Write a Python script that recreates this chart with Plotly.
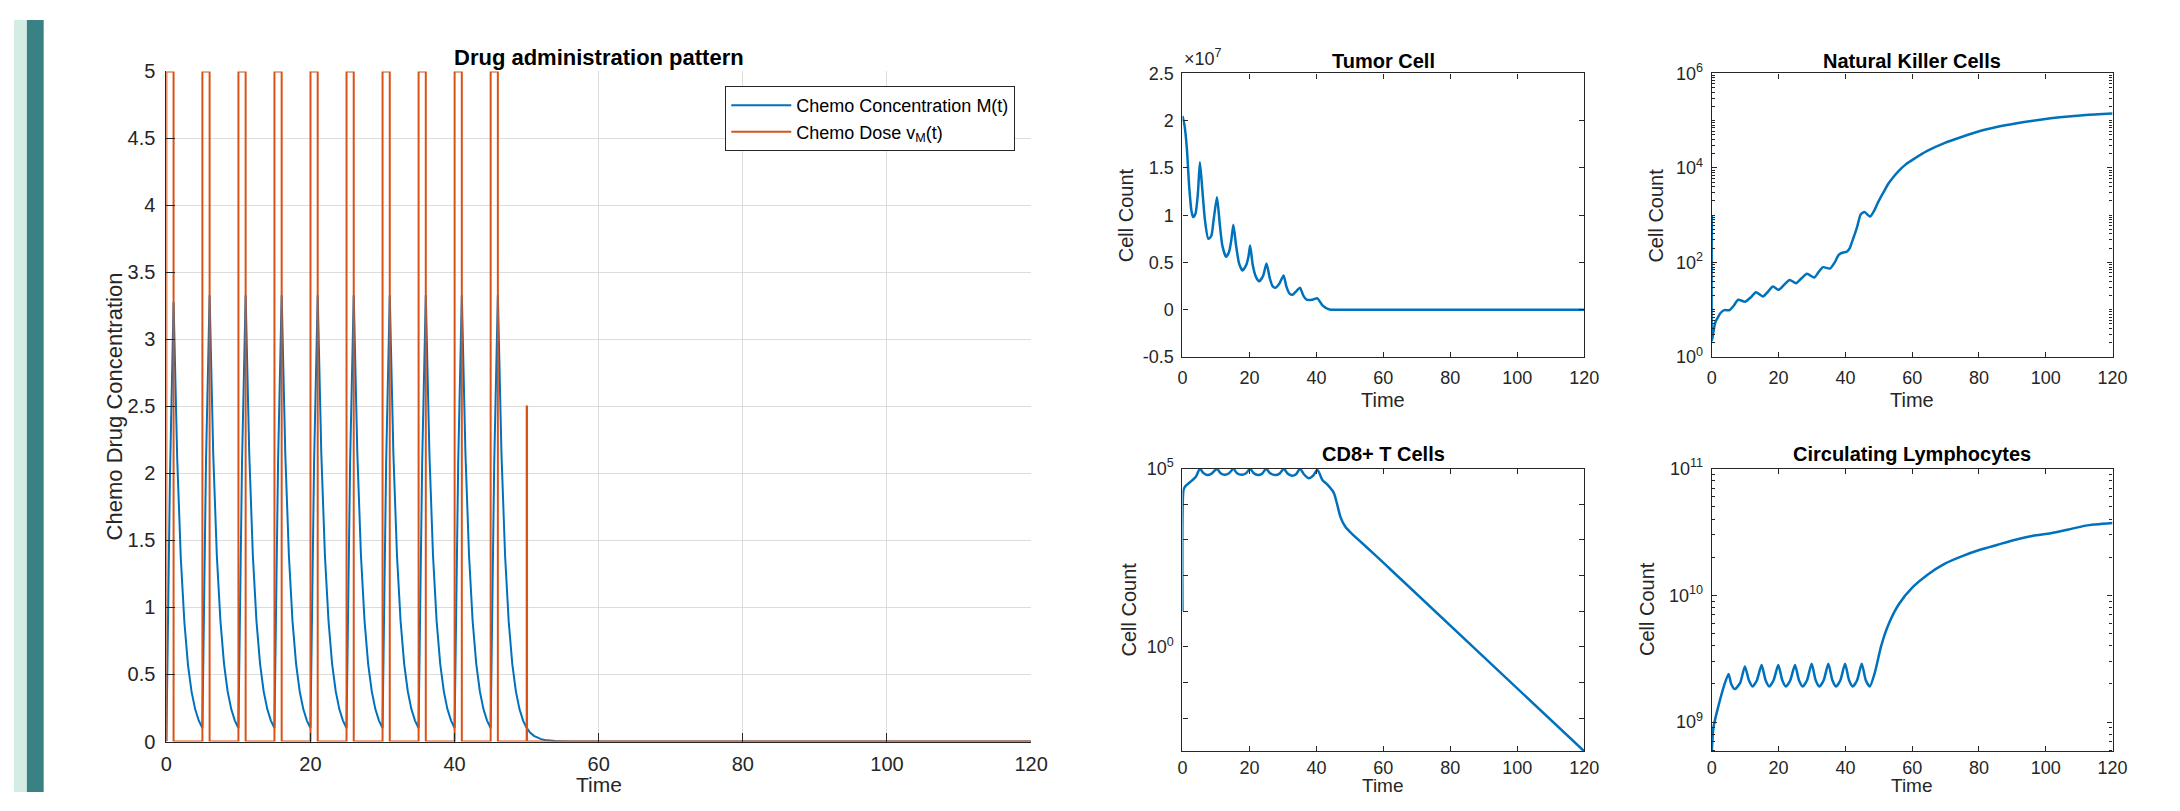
import plotly.graph_objects as go

# ---------------- data ----------------
time_ticks = [0, 20, 40, 60, 80, 100, 120]

# Chemo concentration M(t), sampled every 0.5 time units from 0 to 56, then 120
conc_time = [i * 0.5 for i in range(113)] + [120]
conc_values = [
    0.0, 1.98, 3.28, 2.12, 1.37, 0.89, 0.57, 0.37, 0.24, 0.155, 0.10,
    2.09, 3.33, 2.15, 1.39, 0.90, 0.58, 0.375, 0.242, 0.156, 0.101,
    2.09, 3.33, 2.15, 1.39, 0.90, 0.58, 0.375, 0.242, 0.156, 0.101,
    2.09, 3.33, 2.15, 1.39, 0.90, 0.58, 0.375, 0.242, 0.156, 0.101,
    2.09, 3.33, 2.15, 1.39, 0.90, 0.58, 0.375, 0.242, 0.156, 0.101,
    2.09, 3.33, 2.15, 1.39, 0.90, 0.58, 0.375, 0.242, 0.156, 0.101,
    2.09, 3.33, 2.15, 1.39, 0.90, 0.58, 0.375, 0.242, 0.156, 0.101,
    2.09, 3.33, 2.15, 1.39, 0.90, 0.58, 0.375, 0.242, 0.156, 0.101,
    2.09, 3.33, 2.15, 1.39, 0.90, 0.58, 0.375, 0.242, 0.156, 0.101,
    2.09, 3.33, 2.15, 1.39, 0.90, 0.58, 0.375, 0.242, 0.156, 0.101,
    0.065, 0.042, 0.027, 0.018, 0.011, 0.007, 0.005, 0.003, 0.002, 0.001, 0.001, 0.0,
    0.0,
]

# Chemo dose v_M(t) (step function)
dose_time = [0, 0, 1, 5, 6, 10, 11, 15, 16, 20, 21, 25, 26, 30, 31, 35, 36, 40, 41,
             45, 46, 50, 50.05, 120]
dose_values = [0, 5, 0, 5, 0, 5, 0, 5, 0, 5, 0, 5, 0, 5, 0, 5, 0, 5, 0,
               5, 0, 2.5, 0, 0]

# Tumor cells
tumor_time = [0, 0.6, 1.3, 2.0, 2.7, 3.2, 3.9, 4.6, 5.2, 5.9,
              6.7, 7.7, 8.6, 9.3, 10.3, 11.1, 11.9, 13.0, 13.9, 14.6,
              15.2, 16.0, 16.9, 17.9, 19.0, 19.7, 20.2, 21.0, 21.9, 22.9,
              24.1, 25.1, 26.1, 26.9, 27.8, 29.0, 30.2, 31.0, 32.0, 32.9,
              34.1, 35.1, 36.1, 37.1, 38.8, 40.3, 41.8, 42.8, 44.0, 44.7, 120]
tumor_values = [2.05e7, 1.95e7, 1.71e7, 1.30e7, 1.04e7, 0.98e7, 1.02e7, 1.23e7, 1.56e7, 1.28e7,
                0.95e7, 0.75e7, 0.78e7, 0.95e7, 1.19e7, 0.92e7, 0.68e7, 0.56e7, 0.61e7, 0.74e7,
                0.90e7, 0.68e7, 0.49e7, 0.415e7, 0.47e7, 0.56e7, 0.68e7, 0.47e7, 0.35e7, 0.30e7,
                0.36e7, 0.49e7, 0.33e7, 0.25e7, 0.233e7, 0.28e7, 0.363e7, 0.25e7, 0.17e7, 0.158e7,
                0.20e7, 0.233e7, 0.15e7, 0.106e7, 0.106e7, 0.12e7, 0.045e7, 0.02e7, 0.003e7, 0, 0]

# Natural killer cells
nk_time = [0, 0.05, 0.3, 1.0, 2.0, 2.6, 3.7, 5.3, 6.5, 7.9,
           10.0, 11.8, 13.2, 15.3, 16.8, 18.3, 20.0, 21.7, 23.3, 25.2,
           26.8, 28.5, 30.7, 32.0, 33.3, 35.4, 36.8, 38.0, 39.3, 40.5,
           41.3, 42.3, 43.5, 44.6, 45.7, 46.5, 47.4, 48.5, 49.7, 51.3,
           52.9, 54.5, 56.0, 58.0, 60.3, 64.5, 69.8, 75.0, 80.3, 85.6,
           90.9, 96.2, 101.5, 106.8, 112.0, 120]
nk_values = [1000, 2.24, 2.82, 5.25, 7.24, 8.51, 9.77, 9.77, 12.0, 16.2,
             14.8, 18.6, 23.4, 19.1, 24.0, 30.9, 26.3, 33.9, 42.7, 36.3,
             45.7, 57.5, 47.9, 63.1, 79.4, 74.1, 100, 145, 162, 170,
             200, 316, 562, 1047, 1175, 1047, 933, 1202, 1820, 2951,
             4677, 6607, 8710, 11750, 15140, 22910, 33880, 45710, 60260, 74130,
             87100, 100000, 112200, 123000, 131800, 141300]

# CD8+ T cells
cd8_time = [0, 0.3, 0.8, 2.5, 4.0, 5.2, 6.2, 7.4, 8.7, 10.3,
            11.3, 12.6, 13.9, 15.2, 16.2, 17.7, 19.0, 20.2, 21.2, 22.6,
            23.8, 25.0, 26.1, 27.7, 29.0, 30.3, 31.3, 32.7, 34.0, 35.1,
            36.2, 37.7, 39.0, 40.3, 41.8, 43.3, 45.2, 46.2, 47.2, 48.7,
            50.1, 52.6, 57.5, 62.4, 120]
cd8_values = [10, 2.51e4, 3.16e4, 4.37e4, 5.89e4, 1.0e5, 7.59e4, 6.61e4, 7.24e4, 1.0e5,
              7.59e4, 6.76e4, 7.41e4, 1.0e5, 7.59e4, 6.76e4, 7.41e4, 1.0e5, 7.59e4, 6.61e4,
              7.24e4, 1.0e5, 7.59e4, 6.61e4, 7.24e4, 1.0e5, 7.41e4, 6.31e4, 7.08e4, 1.0e5,
              7.08e4, 5.37e4, 6.31e4, 9.33e4, 4.79e4, 3.55e4, 2.09e4, 1.0e4, 4.37e3, 2.29e3,
              1.66e3, 1.0e3, 380, 141, 1.17e-3]

# Circulating lymphocytes
circ_time = [0, 0.5, 2.1, 3.7, 5.0, 5.8, 6.9, 8.5, 9.9, 11.1,
             12.2, 13.5, 14.9, 16.1, 17.2, 18.5, 19.9, 21.1, 22.2, 23.5,
             24.9, 26.1, 27.2, 28.5, 29.9, 31.1, 32.2, 33.5, 34.9, 36.1,
             37.2, 38.5, 39.9, 41.1, 42.2, 43.5, 44.9, 46.1, 47.3, 48.8,
             50.7, 52.9, 56.0, 60.3, 64.5, 69.8, 75.0, 80.3, 85.6, 90.9,
             96.2, 101.5, 106.8, 112.0, 120]
circ_values = [5.89e8, 9.12e8, 1.38e9, 1.95e9, 2.40e9, 2.00e9, 1.82e9, 2.04e9, 2.75e9, 2.14e9,
               1.91e9, 2.14e9, 2.82e9, 2.14e9, 1.91e9, 2.14e9, 2.82e9, 2.14e9, 1.91e9, 2.14e9,
               2.82e9, 2.14e9, 1.91e9, 2.14e9, 2.88e9, 2.14e9, 1.91e9, 2.14e9, 2.88e9, 2.14e9,
               1.91e9, 2.14e9, 2.88e9, 2.14e9, 1.91e9, 2.14e9, 2.88e9, 2.14e9, 1.91e9, 2.45e9,
               3.98e9, 5.89e9, 8.51e9, 1.17e10, 1.45e10, 1.78e10, 2.04e10, 2.29e10, 2.51e10, 2.75e10,
               2.95e10, 3.09e10, 3.31e10, 3.55e10, 3.72e10]

tumor_ticks = [-0.5e7, 0, 0.5e7, 1.0e7, 1.5e7, 2.0e7, 2.5e7]
tumor_ticktext = ["-0.5", "0", "0.5", "1", "1.5", "2", "2.5"]
nk_ticks = [1, 1e2, 1e4, 1e6]
nk_ticktext = ["10<sup>0</sup>", "10<sup>2</sup>", "10<sup>4</sup>", "10<sup>6</sup>"]
cd8_ticks = [1e-2, 1e-1, 1, 1e1, 1e2, 1e3, 1e4, 1e5]
cd8_ticktext = ["", "", "10<sup>0</sup>", "", "", "", "", "10<sup>5</sup>"]
circ_ticks = [1e9, 1e10, 1e11]
circ_ticktext = ["10<sup>9</sup>", "10<sup>10</sup>", "10<sup>11</sup>"]

# ---------------- styling ----------------
# The page body keeps its default 8 px margin, so the figure is sized to fit the
# 2180x811 window exactly; positions below are given in window pixels.
OFF = 8
W, H = 2180 - OFF, 811 - 2 * OFF
FONT = "Liberation Sans, Arial, Helvetica, sans-serif"
BLUE = "#0072BD"
ORANGE = "#D95319"
AX = "#262626"


def px(x):
    return (x - OFF) / W


def py(y):
    return 1 - (y - OFF) / H


def dx(a, b):
    return [px(a), px(b)]


def dy(top, bottom):
    return [py(bottom), py(top)]


def minor_log(lo, hi):
    vals = []
    for e in range(lo, hi):
        for m in range(2, 10):
            vals.append(m * 10 ** e)
    return vals


fig = go.Figure()

fig.add_trace(go.Scatter(x=conc_time, y=conc_values, mode="lines",
                         name="Chemo Concentration M(t)",
                         line=dict(color=BLUE, width=2), xaxis="x", yaxis="y"))
fig.add_trace(go.Scatter(x=dose_time, y=dose_values, mode="lines",
                         name="Chemo Dose v<sub>M</sub>(t)",
                         line=dict(color=ORANGE, width=2, shape="hv"), xaxis="x", yaxis="y"))

smooth = dict(color=BLUE, width=2.5, shape="spline", smoothing=0.6)
fig.add_trace(go.Scatter(x=tumor_time, y=tumor_values, mode="lines", showlegend=False,
                         line=smooth, xaxis="x2", yaxis="y2"))
fig.add_trace(go.Scatter(x=nk_time, y=nk_values, mode="lines", showlegend=False,
                         line=smooth, xaxis="x3", yaxis="y3"))
fig.add_trace(go.Scatter(x=cd8_time, y=cd8_values, mode="lines", showlegend=False,
                         line=smooth, xaxis="x4", yaxis="y4"))
fig.add_trace(go.Scatter(x=circ_time, y=circ_values, mode="lines", showlegend=False,
                         line=smooth, xaxis="x5", yaxis="y5"))

main_font = dict(family=FONT, size=20, color=AX)
small_font = dict(family=FONT, size=18, color=AX)

common_main = dict(showline=True, linecolor=AX, linewidth=1, ticks="inside", ticklen=9,
                   tickcolor=AX, showgrid=True, gridcolor="#dcdcdc", gridwidth=1,
                   zeroline=False, mirror=False, tickfont=main_font)

common_small = dict(showline=True, linecolor=AX, linewidth=1.3, ticks="inside", ticklen=5,
                    tickcolor=AX, showgrid=False, zeroline=False, mirror="ticks",
                    tickfont=small_font)

MAIN_X = dx(162, 1036)
MAIN_Y = dy(61, 751)
COL1 = dx(1189, 1595)
COL2 = dx(1724, 2129)
ROW1 = dy(63, 355)
ROW2 = dy(470, 761)

fig.update_layout(
    xaxis=dict(domain=MAIN_X, anchor="y", range=[0, 120], tickmode="array",
               tickvals=time_ticks, ticklabelstandoff=4, **common_main),
    yaxis=dict(domain=MAIN_Y, anchor="x", range=[0, 5], tick0=0, dtick=0.5,
               ticklabelstandoff=6, **common_main),
    xaxis2=dict(domain=COL1, anchor="y2", range=[0, 120], tickmode="array",
                tickvals=time_ticks, ticklabelstandoff=4, **common_small),
    yaxis2=dict(domain=ROW1, anchor="x2", range=[-0.5e7, 2.5e7], tickmode="array",
                tickvals=tumor_ticks, ticktext=tumor_ticktext, ticklabelstandoff=4,
                **common_small),
    xaxis3=dict(domain=COL2, anchor="y3", range=[0, 120], tickmode="array",
                tickvals=time_ticks, ticklabelstandoff=4, **common_small),
    yaxis3=dict(domain=ROW1, anchor="x3", type="log", range=[0, 6], tickmode="array",
                tickvals=nk_ticks, ticktext=nk_ticktext, ticklabelstandoff=4,
                minor=dict(tickmode="array", tickvals=[10, 1e3, 1e5] + minor_log(0, 6),
                           ticks="inside", ticklen=3, tickcolor=AX, showgrid=False),
                **common_small),
    xaxis4=dict(domain=COL1, anchor="y4", range=[0, 120], tickmode="array",
                tickvals=time_ticks, ticklabelstandoff=0, **common_small),
    yaxis4=dict(domain=ROW2, anchor="x4", type="log", range=[-2.93, 5], tickmode="array",
                tickvals=cd8_ticks, ticktext=cd8_ticktext, ticklabelstandoff=4,
                **common_small),
    xaxis5=dict(domain=COL2, anchor="y5", range=[0, 120], tickmode="array",
                tickvals=time_ticks, ticklabelstandoff=0, **common_small),
    yaxis5=dict(domain=ROW2, anchor="x5", type="log", range=[8.77, 11], tickmode="array",
                tickvals=circ_ticks, ticktext=circ_ticktext, ticklabelstandoff=4,
                minor=dict(tickmode="array", tickvals=minor_log(8, 11),
                           ticks="inside", ticklen=3, tickcolor=AX, showgrid=False),
                **common_small),
)


def ann(text, x, y, size, bold=False, angle=0, xanchor="center", yanchor="middle", color="black"):
    fig.add_annotation(text=("<b>%s</b>" % text) if bold else text,
                       x=px(x), y=py(y), xref="paper", yref="paper",
                       showarrow=False, textangle=angle, xanchor=xanchor, yanchor=yanchor,
                       font=dict(family=FONT, size=size, color=color))


# titles
ann("Drug administration pattern", 599, 47, 22, bold=True)
ann("Tumor Cell", 1392, 50, 20, bold=True)
ann("Natural Killer Cells", 1926, 50, 20, bold=True)
ann("CD8+ T Cells", 1392, 455, 20, bold=True)
ann("Circulating Lymphocytes", 1926, 455, 20, bold=True)

# axis labels
ann("Time", 599, 795, 21, color=AX)
ann("Chemo Drug Concentration", 110, 406, 22, angle=-90, color=AX)
ann("Time", 1392, 399, 20, color=AX)
ann("Time", 1926, 399, 20, color=AX)
ann("Time", 1392, 796, 19, color=AX)
ann("Time", 1926, 796, 19, color=AX)
ann("Cell Count", 1132, 209, 20, angle=-90, color=AX)
ann("Cell Count", 1668, 209, 20, angle=-90, color=AX)
ann("Cell Count", 1135, 615, 20, angle=-90, color=AX)
ann("Cell Count", 1659, 615, 20, angle=-90, color=AX)
ann("\u00d710<sup>7</sup>", 1189, 61, 18, xanchor="left", yanchor="bottom", color=AX)

# decorative strips at the left edge
fig.add_shape(type="rect", xref="paper", yref="paper", x0=0, x1=px(21), y0=0, y1=1,
              fillcolor="#d5ece4", line=dict(width=0), layer="below")
fig.add_shape(type="rect", xref="paper", yref="paper", x0=px(21), x1=px(38), y0=0, y1=1,
              fillcolor="#3a8183", line=dict(width=0), layer="below")

fig.update_layout(
    width=W, height=H, margin=dict(l=0, r=0, t=0, b=0),
    paper_bgcolor="white", plot_bgcolor="white",
    font=dict(family=FONT, color=AX),
    showlegend=True,
    legend=dict(x=px(1020), xanchor="right", y=py(76), yanchor="top",
                bgcolor="white", bordercolor=AX, borderwidth=1,
                font=dict(family=FONT, size=18, color="black"),
                itemwidth=60, tracegroupgap=0),
)

fig.write_html("out.html", config={"displayModeBar": False})
